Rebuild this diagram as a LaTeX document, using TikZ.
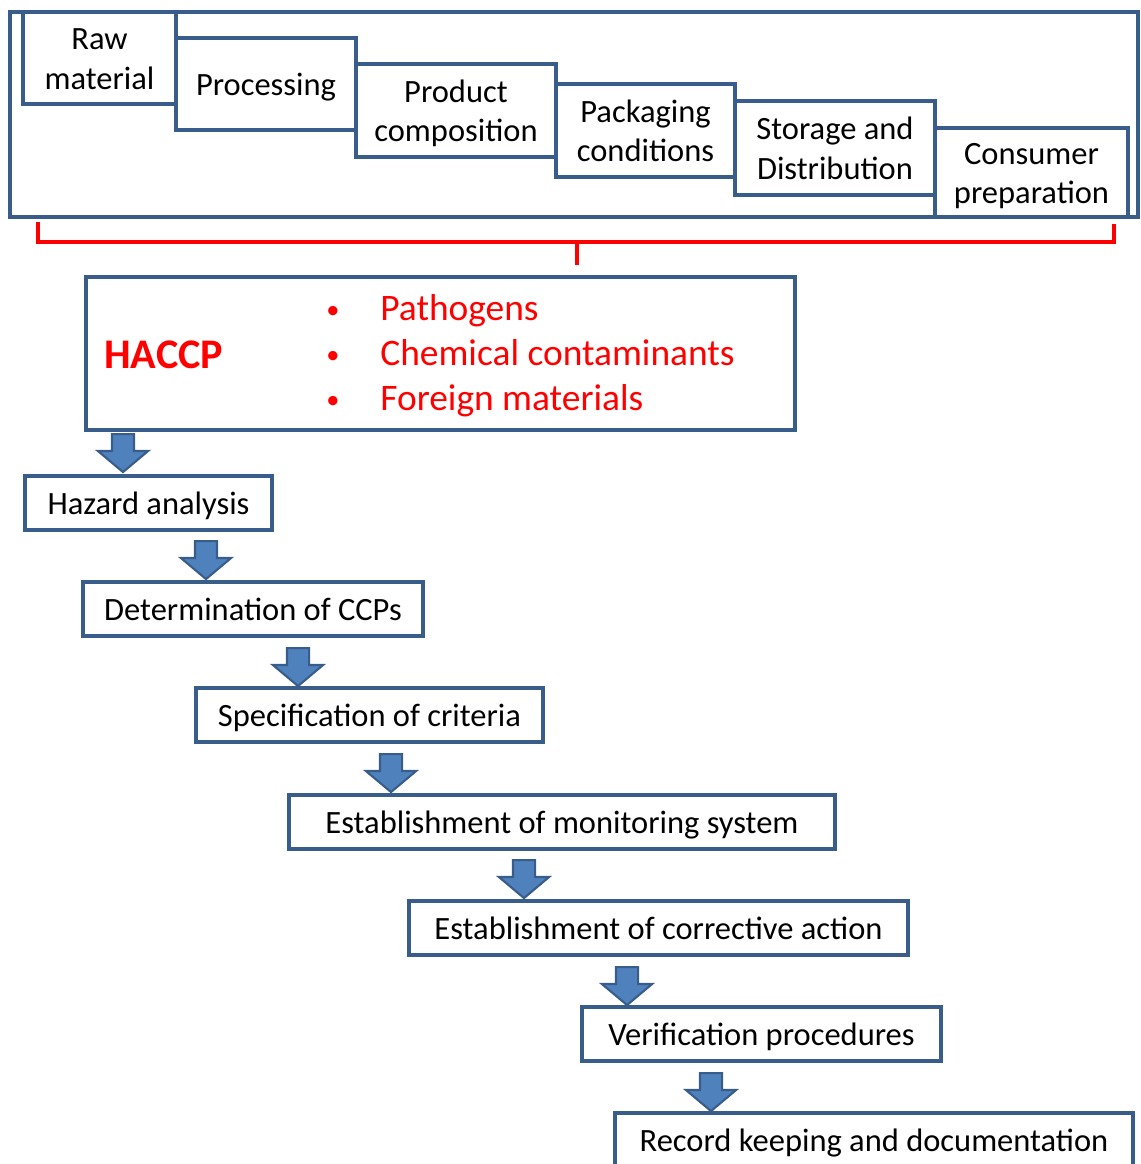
\documentclass[tikz,border=0pt]{standalone}
\usepackage{fontspec}
\setmainfont{Carlito}
\usepackage{xcolor}
\usetikzlibrary{shapes.arrows}
\definecolor{boxblue}{RGB}{56,93,138}
\definecolor{arrowblue}{RGB}{79,129,189}

\begin{document}
\begin{tikzpicture}[x=0.02cm,y=-0.02cm,
	box/.style={draw=boxblue,line width=2.2pt,fill=white,align=center,inner sep=2pt,font=\fontsize{18.5}{22.5}\selectfont},
	topbox/.style={box,text height=35.6pt,text depth=0pt},
	stepbox/.style={box,minimum height=1.08cm,text height=17pt,text depth=4pt},
	downarrow/.style={single arrow,rotate=-90,anchor=tail,draw=boxblue,fill=arrowblue,line width=1.2pt,inner sep=0.2cm,minimum width=0.96cm,minimum height=0.76cm,single arrow head extend=0.28cm,single arrow tip angle=100},
	redtext/.style={text=red,font=\fontsize{21.3}{25}\selectfont,anchor=base west,inner sep=0pt}]
		\useasboundingbox (0,0) rectangle (1141,1164);
		\node[box,minimum width=22.56cm,minimum height=4.1cm] (chain) at (574,114.5) {};
		\node[topbox,minimum width=3.06cm,minimum height=1.84cm] (raw) at (99.5,58) {Raw\\material};
		\node[stepbox,minimum width=3.6cm,minimum height=1.84cm] (proc) at (266,84) {Processing};
		\node[topbox,minimum width=4cm,minimum height=1.86cm] (prod) at (456,110.5) {Product\\composition};
		\node[topbox,minimum width=3.58cm,minimum height=1.86cm] (pack) at (645.5,130.5) {Packaging\\conditions};
		\node[topbox,minimum width=4cm,minimum height=1.88cm] (stor) at (835,148) {Storage and\\Distribution};
		\node[topbox,minimum width=3.86cm,minimum height=1.78cm] (cons) at (1031.5,172.5) {Consumer\\preparation};
		\draw[red,line width=2.2pt] (38,222) -- (38,242) coordinate (brk) -- (1114,242) -- (1114,224);
		\draw[red,line width=2.2pt] (577,242) -- (577,265);
		\node[box,minimum width=14.18cm,minimum height=3.06cm] (haccp) at (440.5,353.5) {};
		\node[text=red,font=\bfseries\fontsize{24}{28}\selectfont,anchor=base west,inner sep=0pt] (haccplbl) at (104,368) {HACCP};
		\foreach \i/\t in {0/Pathogens,1/Chemical contaminants,2/Foreign materials}{
			\node[redtext,anchor=base,font=\fontsize{15}{18}\selectfont] (dot\i) at (333,318+45*\i) {•};
			\node[redtext] (hz\i) at (380,320+45*\i) {\t};
		}
		\node[stepbox,minimum width=4.94cm] (haz) at (148.5,503) {Hazard analysis};
		\node[stepbox,minimum width=6.8cm] (ccp) at (253,609) {Determination of CCPs};
		\node[stepbox,minimum width=6.94cm] (crit) at (369.5,715) {Specification of criteria};
		\node[stepbox,minimum width=10.92cm] (mon) at (562,822) {Establishment of monitoring system};
		\node[stepbox,minimum width=9.98cm] (corr) at (658.5,928) {Establishment of corrective action};
		\node[stepbox,minimum width=7.18cm] (ver) at (761.5,1034) {Verification procedures};
		\node[stepbox,minimum width=10.36cm] (rec) at (874,1140) {Record keeping and documentation};
		\node[downarrow] (a0) at (123,433) {};
		\node[downarrow] (a1) at (206,540) {};
		\node[downarrow] (a2) at (298,647) {};
		\node[downarrow] (a3) at (391,753) {};
		\node[downarrow] (a4) at (524,859) {};
		\node[downarrow] (a5) at (627,966) {};
		\node[downarrow] (a6) at (711,1072) {};
	\end{tikzpicture}
\end{document}
